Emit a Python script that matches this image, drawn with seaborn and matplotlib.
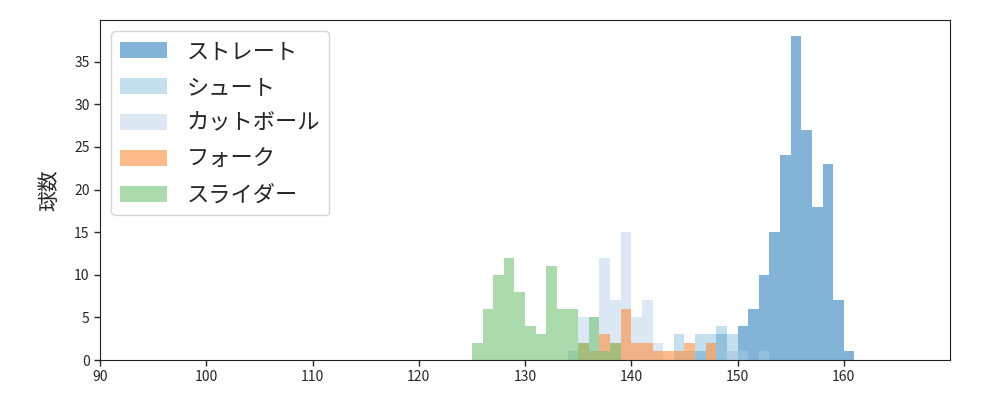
import numpy as np
import pandas as pd
import matplotlib
matplotlib.use('Agg')
import matplotlib.pyplot as plt
import seaborn as sns

# pitch counts per 1 km/h bin (bin left edge -> count)
straight_bins = [146, 148, 149, 150, 151, 152, 153, 154, 155, 156, 157, 158, 159, 160]
straight_cnt = [1, 3, 1, 4, 6, 10, 15, 24, 38, 27, 18, 23, 7, 1]

shoot_bins = [134, 144, 145, 146, 147, 148, 149, 150, 152]
shoot_cnt = [1, 3, 1, 3, 3, 4, 3, 1, 1]

cutter_bins = [135, 136, 137, 138, 139, 140, 141, 142, 149]
cutter_cnt = [5, 5, 12, 7, 15, 5, 7, 2, 1]

fork_bins = [135, 136, 137, 138, 139, 140, 141, 142, 143, 144, 145, 147]
fork_cnt = [2, 1, 3, 2, 6, 2, 2, 1, 1, 1, 2, 2]

slider_bins = [125, 126, 127, 128, 129, 130, 131, 132, 133, 134, 135, 136, 137, 138]
slider_cnt = [2, 6, 10, 12, 8, 4, 3, 11, 6, 6, 2, 5, 1, 2]

series = [
    ('ストレート', straight_bins, straight_cnt, '#3182bd'),
    ('シュート', shoot_bins, shoot_cnt, '#9ecae1'),
    ('カットボール', cutter_bins, cutter_cnt, '#c6dbef'),
    ('フォーク', fork_bins, fork_cnt, '#fd8d3c'),
    ('スライダー', slider_bins, slider_cnt, '#74c476'),
]

sns.set_style('white')
plt.rcParams['font.family'] = ['Noto Sans CJK JP', 'DejaVu Sans']

fig, ax = plt.subplots(figsize=(10, 4), dpi=100)
fig.subplots_adjust(left=0.1, right=0.95, top=0.95, bottom=0.1)

for name, b, c, col in series:
    df = pd.DataFrame({'velo': np.array(b, dtype=float) + 0.5, 'n': c})
    sns.histplot(data=df, x='velo', weights='n', binwidth=1, binrange=(120, 165),
                 color=col, alpha=0.6, linewidth=0, label=name, ax=ax)

ax.set_xlim(90, 170)
ax.set_xticks(range(90, 170, 10))
ax.set_yticks(range(0, 40, 5))
ax.set_xlabel('')
ax.set_ylabel('球数', fontsize=15, labelpad=10)
ax.tick_params(axis='both', direction='out', length=4, width=1, labelsize=10,
               bottom=True, left=True)
for s in ax.spines.values():
    s.set_color('#222222')
ax.legend(loc='upper left', fontsize=16, handlelength=2.1, handletextpad=0.9,
          labelspacing=0.58, borderaxespad=0.5)
fig.savefig('out.png', dpi=100)
